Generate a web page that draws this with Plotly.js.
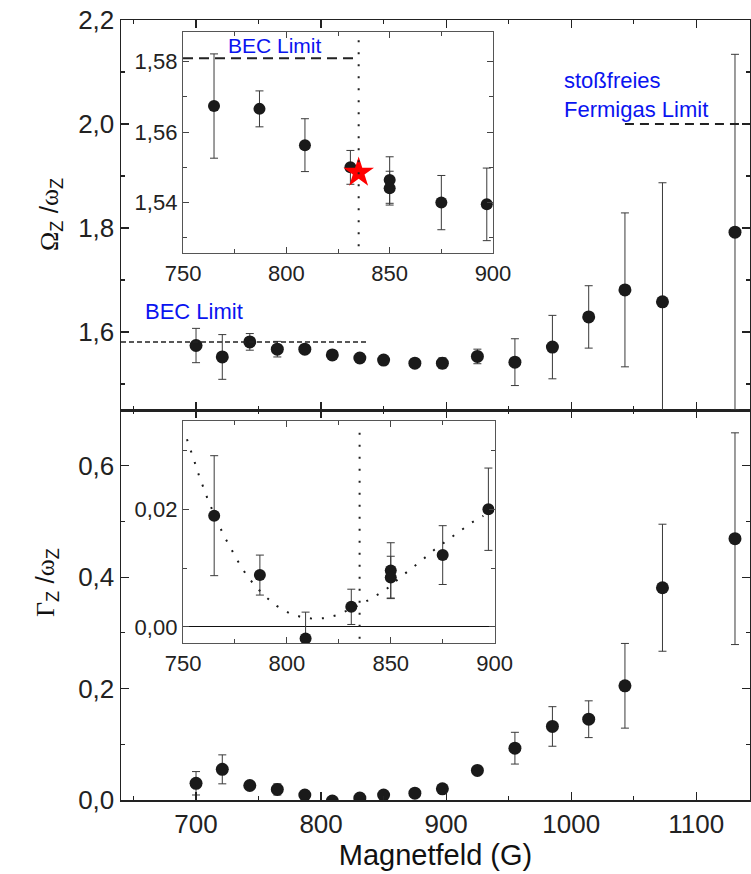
<!DOCTYPE html>
<html>
<head>
<meta charset="utf-8">
<script src="https://cdn.plot.ly/plotly-3.0.1.min.js"></script>
<style>html,body{margin:0;padding:0;background:#fff;}#chart{width:751px;height:874px;}</style>
</head>
<body>
<div id="chart"></div>
<script>
// ---- Main panel, upper: Omega_z / omega_z ----
const omegaField = [700, 721, 743, 765, 787, 809, 831, 850, 875, 897, 925, 955, 985, 1014, 1043, 1073, 1131];
const omegaVal   = [1.574, 1.552, 1.581, 1.567, 1.567, 1.556, 1.550, 1.546, 1.540, 1.540, 1.553, 1.542, 1.571, 1.629, 1.681, 1.658, 1.792];
const omegaErr   = [0.033, 0.043, 0.016, 0.015, 0.005, 0.0075, 0.0048, 0.007, 0.0077, 0.0103, 0.014, 0.045, 0.061, 0.060, 0.148, 0.229, 0.342];

// ---- Main panel, lower: Gamma_z / omega_z ----
const gammaField = [700, 721, 743, 765, 787, 809, 831, 850, 875, 897, 925, 955, 985, 1014, 1043, 1073, 1131];
const gammaVal   = [0.030, 0.055, 0.026, 0.019, 0.009, -0.002, 0.0034, 0.009, 0.0122, 0.020, 0.053, 0.093, 0.132, 0.145, 0.205, 0.381, 0.469];
const gammaErr   = [0.021, 0.026, 0.005, 0.010, 0.0034, 0.0045, 0.003, 0.004, 0.005, 0.007, 0.005, 0.0285, 0.0355, 0.033, 0.076, 0.114, 0.190];

// ---- Upper inset ----
const insetOmegaField = [765, 787, 809, 831, 850, 850, 875, 897];
const insetOmegaVal   = [1.5674, 1.5666, 1.5563, 1.5500, 1.5464, 1.5441, 1.5400, 1.5395];
const insetOmegaErr   = [0.0148, 0.0051, 0.0075, 0.0048, 0.0066, 0.0048, 0.0077, 0.0103];
const starField = [835];
const starVal   = [1.5485];

// ---- Lower inset ----
const insetGammaField = [765, 787, 809, 831, 850, 850, 875, 897];
const insetGammaVal   = [0.0189, 0.0088, -0.0020, 0.0034, 0.0096, 0.0084, 0.0122, 0.0200];
const insetGammaErr   = [0.0102, 0.0034, 0.0045, 0.0030, 0.0047, 0.0036, 0.0050, 0.0070];
const curveField = [751.9, 753.9, 755.8, 757.7, 759.8, 762.1, 767.1, 769.8, 772.9, 776.1, 779.9, 784.1, 789.4, 795.1, 801.2, 807.0, 812.8, 818.6, 824.5, 836.0, 842.1, 848.1, 853.5, 859.5, 865.4, 871.1, 877.2, 883.1, 888.8, 894.6];
const curveVal   = [0.0319, 0.0299, 0.0278, 0.0257, 0.0236, 0.0215, 0.01746, 0.01542, 0.01343, 0.01134, 0.00918, 0.0072, 0.00522, 0.00357, 0.00233, 0.00165, 0.00136, 0.00148, 0.00204, 0.00391, 0.0051, 0.00646, 0.00811, 0.00975, 0.01145, 0.01315, 0.01474, 0.01632, 0.01768, 0.01887];

// ---- Reference values ----
const becLimit = 1.581;
const fermiLimit = 2.0;
const resonanceField = 835;
const becLineEnd = 836;
const fermiLineStart = 1043;

const FONT = '"Liberation Sans", Arial, Helvetica, sans-serif';
const INK = '#1a1a1a';
const BLUE = '#0a14f0';

const markerMain = {color: INK, size: 13};
const markerInset = {color: INK, size: 12};
const errStyle = (arr) => ({type: 'data', array: arr, visible: true, color: '#3a3a3a', thickness: 1, width: 4});

const traces = [
  {x: gammaField, y: gammaVal, error_y: errStyle(gammaErr), mode: 'markers', marker: markerMain, xaxis: 'x', yaxis: 'y', type: 'scatter'},
  {x: omegaField, y: omegaVal, error_y: errStyle(omegaErr), mode: 'markers', marker: markerMain, xaxis: 'x2', yaxis: 'y2', type: 'scatter'},
  {x: insetOmegaField, y: insetOmegaVal, error_y: errStyle(insetOmegaErr), mode: 'markers', marker: markerInset, xaxis: 'x3', yaxis: 'y3', type: 'scatter'},
  {x: starField, y: starVal, mode: 'markers', marker: {symbol: 'star', color: '#ff0000', size: 23, line: {width: 0}}, xaxis: 'x3', yaxis: 'y3', type: 'scatter'},
  {x: curveField, y: curveVal, mode: 'lines', line: {color: INK, width: 2, dash: '2px,10px'}, xaxis: 'x4', yaxis: 'y4', type: 'scatter'},
  {x: insetGammaField, y: insetGammaVal, error_y: errStyle(insetGammaErr), mode: 'markers', marker: markerInset, xaxis: 'x4', yaxis: 'y4', type: 'scatter'}
];

const mainAxisCommon = {
  showgrid: false, zeroline: false, showline: true, linecolor: '#222', linewidth: 1.5,
  ticks: 'inside', ticklen: 8, tickwidth: 1.2, tickcolor: '#222', mirror: 'ticks',
  tickfont: {family: FONT, size: 26, color: '#222'}
};
const insetAxisCommon = {
  showgrid: false, zeroline: false, showline: true, linecolor: '#555', linewidth: 1.2,
  ticks: 'inside', ticklen: 6, tickwidth: 1, tickcolor: '#444', mirror: 'ticks',
  tickfont: {family: FONT, size: 22, color: '#222'}
};

const greek = (g) => '<span style="font-family:' + "'Liberation Serif'" + '">' + g + '</span>';

const layout = {
  width: 751, height: 874,
  margin: {l: 121, r: 1, t: 20, b: 74},
  paper_bgcolor: '#fff', plot_bgcolor: 'rgba(0,0,0,0)',
  separators: ',.',
  showlegend: false,
  font: {family: FONT, color: '#222'},
  xaxis: Object.assign({}, mainAxisCommon, {
    anchor: 'y', domain: [0, 1], range: [640, 1143], dtick: 100, tick0: 0,
    minor: {dtick: 50, ticks: 'inside', ticklen: 4, tickcolor: '#222'},
    title: {text: 'Magnetfeld (G)', font: {family: FONT, size: 29, color: '#111'}, standoff: 4}
  }),
  yaxis: Object.assign({}, mainAxisCommon, {
    anchor: 'x', domain: [0, 0.5], range: [0, 0.7], dtick: 0.2, tick0: 0, tickformat: '.1f',
    minor: {dtick: 0.1, ticks: 'inside', ticklen: 4, tickcolor: '#222'}
  }),
  xaxis2: Object.assign({}, mainAxisCommon, {
    anchor: 'y2', matches: 'x', range: [640, 1143], dtick: 100, tick0: 0, showticklabels: false,
    minor: {dtick: 50, ticks: 'inside', ticklen: 4, tickcolor: '#222'}
  }),
  yaxis2: Object.assign({}, mainAxisCommon, {
    anchor: 'x2', domain: [0.5, 1], range: [1.45, 2.2], dtick: 0.2, tick0: 0, tickformat: '.1f',
    minor: {dtick: 0.1, ticks: 'inside', ticklen: 4, tickcolor: '#222'}
  }),
  xaxis3: Object.assign({}, insetAxisCommon, {
    anchor: 'y3', domain: [0.0986, 0.5914], range: [750, 900], dtick: 50, tick0: 0,
    minor: {dtick: 25, ticks: 'inside', ticklen: 4, tickcolor: '#444'}
  }),
  yaxis3: Object.assign({}, insetAxisCommon, {
    anchor: 'x3', domain: [0.7013, 0.985], range: [1.5257, 1.5885], dtick: 0.02, tick0: 0, tickformat: '.2f',
    minor: {dtick: 0.01, ticks: 'inside', ticklen: 4, tickcolor: '#444'}
  }),
  xaxis4: Object.assign({}, insetAxisCommon, {
    anchor: 'y4', domain: [0.0986, 0.594], range: [750, 900], dtick: 50, tick0: 0,
    minor: {dtick: 25, ticks: 'inside', ticklen: 4, tickcolor: '#444'}
  }),
  yaxis4: Object.assign({}, insetAxisCommon, {
    anchor: 'x4', domain: [0.2009, 0.4859], range: [-0.0028, 0.035], dtick: 0.02, tick0: 0, tickformat: '.2f',
    zeroline: true, zerolinecolor: '#111', zerolinewidth: 1.2,
    minor: {dtick: 0.01, ticks: 'inside', ticklen: 4, tickcolor: '#444'}
  }),
  shapes: [
    {type: 'line', xref: 'x2', yref: 'y2', x0: 640, x1: becLineEnd, y0: becLimit, y1: becLimit,
     line: {color: '#222', width: 1.5, dash: '5px,3px'}},
    {type: 'line', xref: 'x2', yref: 'y2', x0: fermiLineStart, x1: 1143, y0: fermiLimit, y1: fermiLimit,
     line: {color: '#222', width: 1.8, dash: '9px,6px'}},
    {type: 'line', xref: 'x3', yref: 'y3', x0: 750, x1: resonanceField, y0: becLimit, y1: becLimit,
     line: {color: '#222', width: 2, dash: '10px,6px'}},
    {type: 'line', xref: 'x3', yref: 'y3 domain', x0: resonanceField, x1: resonanceField, y0: 0.03, y1: 0.99,
     line: {color: '#222', width: 2, dash: '2px,10px'}},
    {type: 'line', xref: 'x4', yref: 'y4 domain', x0: resonanceField, x1: resonanceField, y0: 0.02, y1: 0.99,
     line: {color: '#222', width: 2, dash: '2px,10px'}}
  ],
  annotations: [
    {xref: 'x3', yref: 'y3', x: 794.4, y: 1.5845, text: 'BEC Limit', showarrow: false,
     font: {family: FONT, size: 21, color: BLUE}},
    {xref: 'x2', yref: 'y2', x: 698.4, y: 1.6385, text: 'BEC Limit', showarrow: false,
     font: {family: FONT, size: 22, color: BLUE}},
    {xref: 'x2', yref: 'y2', x: 993, y: 2.056, text: 'stoßfreies<br>Fermigas Limit', showarrow: false,
     xanchor: 'left', align: 'left', font: {family: FONT, size: 22, color: BLUE}},
    {xref: 'paper', yref: 'paper', x: -0.1415, y: 0.80, text: greek('Ω') + '<sub>Z</sub> /' + greek('ω') + '<sub>Z</sub>', showarrow: false,
     textangle: -90, font: {family: FONT, size: 26, color: '#111'}},
    {xref: 'paper', yref: 'paper', x: -0.148, y: 0.232, text: greek('Γ') + '<sub>Z</sub> /' + greek('ω') + '<sub>Z</sub>', showarrow: false,
     textangle: -90, font: {family: FONT, size: 26, color: '#111'}}
  ]
};

Plotly.newPlot('chart', traces, layout, {staticPlot: true, displayModeBar: false});
</script>
</body>
</html>
